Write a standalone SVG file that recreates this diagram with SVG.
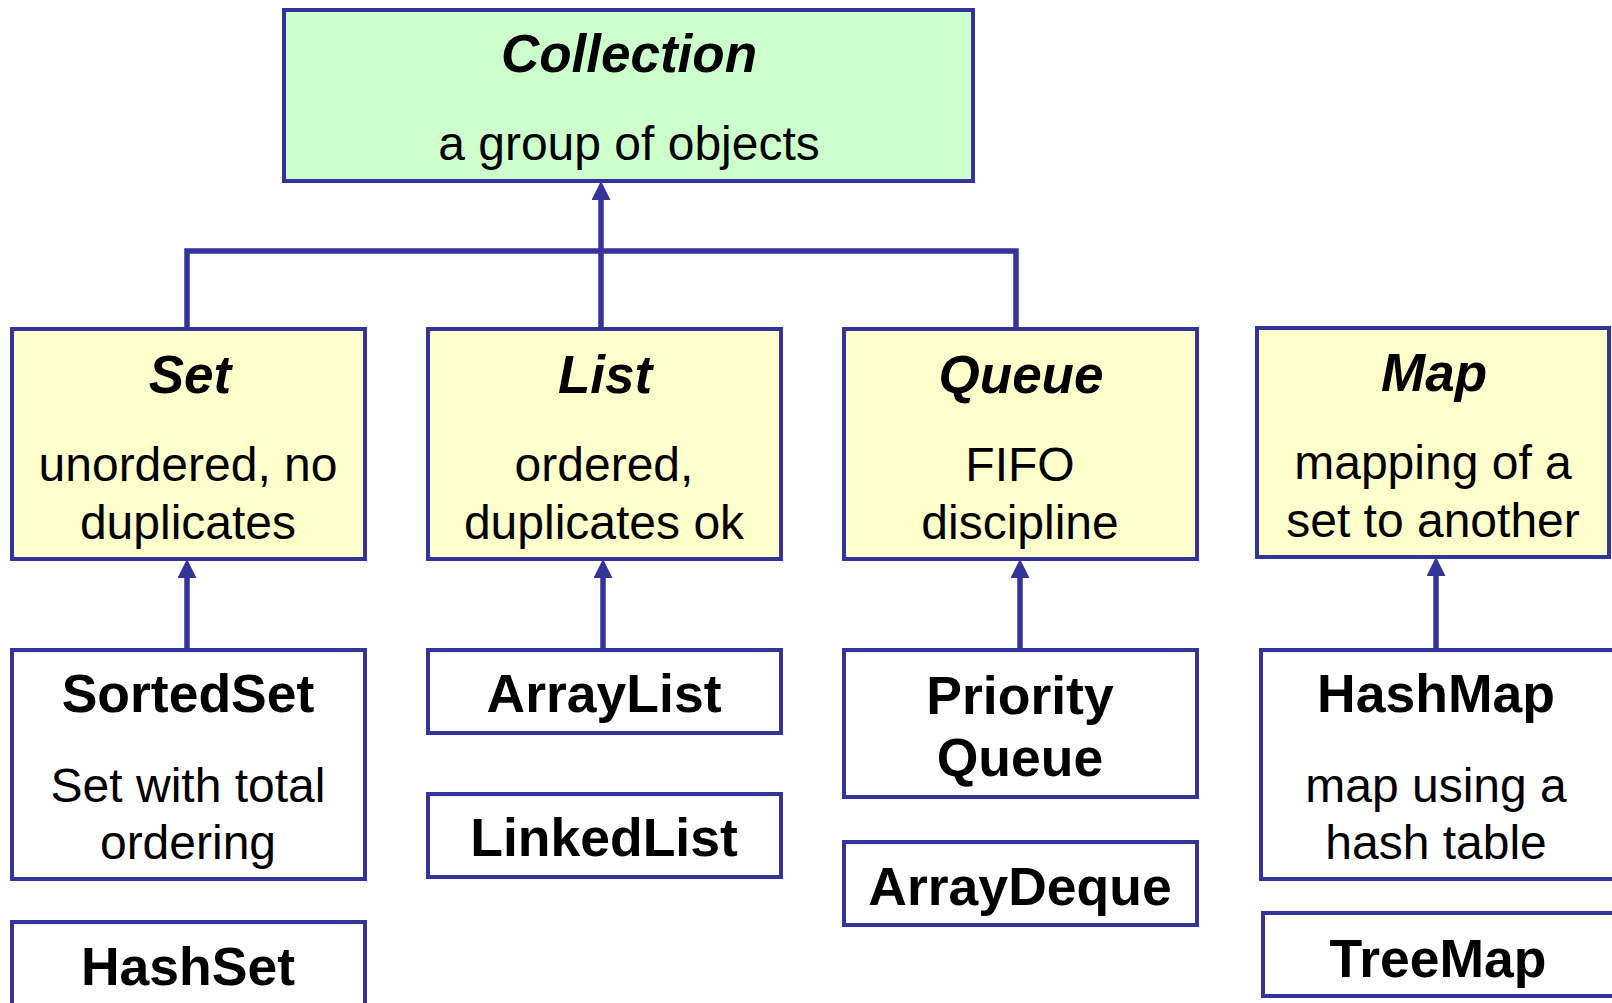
<svg xmlns="http://www.w3.org/2000/svg" width="1612" height="1003" viewBox="0 0 1612 1003">
<defs>
<style>
.box{stroke:#333399;stroke-width:4}
.iface{fill:#ffffcc}
.root{fill:#ccffcc}
.cls{fill:#ffffff}
.conn{fill:none;stroke:#333399;stroke-width:5.5}
text{font-family:"Liberation Sans",Arial,sans-serif;fill:#000;text-anchor:middle}
.ttl{font-weight:bold;font-style:italic;font-size:53px}
.dsc{font-size:48px}
.cn{font-weight:bold;font-size:53.5px}
</style>
<marker id="ah" markerUnits="userSpaceOnUse" markerWidth="22" markerHeight="22" refX="2" refY="9.5" orient="auto">
<path d="M0,0 L19,9.5 L0,19 z" fill="#333399"/>
</marker>
</defs>
<rect width="1612" height="1003" fill="#ffffff"/>

<g id="connectors">
<path class="conn" d="M187,329 V251 H1016 V329"/>
<path class="conn" d="M601,329 V198" marker-end="url(#ah)"/>
<path class="conn" d="M187,650 V576" marker-end="url(#ah)"/>
<path class="conn" d="M603,650 V576" marker-end="url(#ah)"/>
<path class="conn" d="M1020,650 V576" marker-end="url(#ah)"/>
<path class="conn" d="M1436,650 V574" marker-end="url(#ah)"/>
</g>

<g id="collection">
<rect class="box root" x="284" y="10" width="689" height="171"/>
<text class="ttl" x="629" y="72">Collection</text>
<text class="dsc" x="629" y="160">a group of objects</text>
</g>

<g id="set">
<rect class="box iface" x="12" y="329" width="353" height="230"/>
<text class="ttl" x="190" y="393">Set</text>
<text class="dsc" x="188" y="481">unordered, no</text>
<text class="dsc" x="188" y="539">duplicates</text>
</g>

<g id="list">
<rect class="box iface" x="428" y="329" width="353" height="230"/>
<text class="ttl" x="605" y="393">List</text>
<text class="dsc" x="604" y="481">ordered,</text>
<text class="dsc" x="604" y="539">duplicates ok</text>
</g>

<g id="queue">
<rect class="box iface" x="844" y="329" width="353" height="230"/>
<text class="ttl" x="1021" y="393">Queue</text>
<text class="dsc" x="1020" y="481">FIFO</text>
<text class="dsc" x="1020" y="539">discipline</text>
</g>

<g id="map">
<rect class="box iface" x="1257" y="328" width="352" height="229"/>
<text class="ttl" x="1434" y="391">Map</text>
<text class="dsc" x="1433" y="479">mapping of a</text>
<text class="dsc" x="1433" y="537">set to another</text>
</g>

<g id="sortedset">
<rect class="box cls" x="12" y="650" width="353" height="229"/>
<text class="cn" x="188" y="712">SortedSet</text>
<text class="dsc" x="188" y="802">Set with total</text>
<text class="dsc" x="188" y="859">ordering</text>
</g>

<g id="hashset">
<rect class="box cls" x="12" y="922" width="353" height="100"/>
<text class="cn" x="188" y="985">HashSet</text>
</g>

<g id="arraylist">
<rect class="box cls" x="428" y="650" width="353" height="83"/>
<text class="cn" x="604" y="712">ArrayList</text>
</g>

<g id="linkedlist">
<rect class="box cls" x="428" y="794" width="353" height="83"/>
<text class="cn" x="604" y="856">LinkedList</text>
</g>

<g id="priorityqueue">
<rect class="box cls" x="844" y="650" width="353" height="147"/>
<text class="cn" x="1020" y="714">Priority</text>
<text class="cn" x="1020" y="776">Queue</text>
</g>

<g id="arraydeque">
<rect class="box cls" x="844" y="842" width="353" height="83"/>
<text class="cn" x="1020" y="905">ArrayDeque</text>
</g>

<g id="hashmap">
<rect class="box cls" x="1261" y="650" width="355" height="229"/>
<text class="cn" x="1436" y="712">HashMap</text>
<text class="dsc" x="1436" y="802">map using a</text>
<text class="dsc" x="1436" y="859">hash table</text>
</g>

<g id="treemap">
<rect class="box cls" x="1263" y="913" width="353" height="83"/>
<text class="cn" x="1438" y="977">TreeMap</text>
</g>
</svg>
